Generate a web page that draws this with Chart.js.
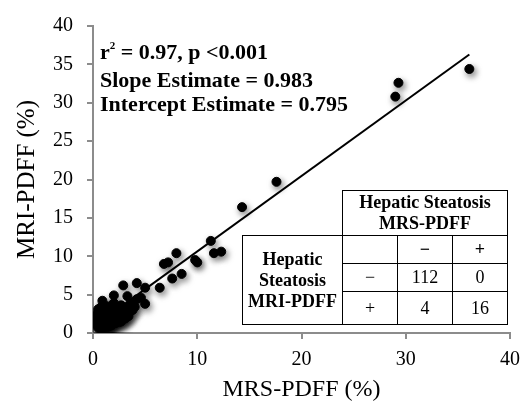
<!DOCTYPE html>
<html><head><meta charset="utf-8">
<script src="https://cdn.jsdelivr.net/npm/chart.js@4/dist/chart.umd.min.js"></script>
<style>
html,body{margin:0;padding:0;background:#fff;}
#wrap{position:relative;width:529px;height:404px;overflow:hidden;}
canvas{position:absolute;left:0;top:0;}
.note{position:absolute;left:100px;top:40px;font:bold 22px "Liberation Serif","Times New Roman",serif;line-height:24.5px;color:#000;white-space:nowrap;}
.note sup{font-size:11px;vertical-align:0;position:relative;top:-10px;}
table{position:absolute;left:242px;top:190px;border-collapse:collapse;table-layout:fixed;font:18px "Liberation Serif","Times New Roman",serif;color:#000;}
td{border:1px solid #000;text-align:center;padding:0;line-height:21px;background:#fff;}
td.b{font-weight:bold;}
td.none{border:none;background:transparent;}
</style>
</head><body>
<div id="wrap">
<canvas id="c" width="529" height="404"></canvas>
<div class="note">r<sup>2</sup> = 0.97, p &lt;0.001<br>Slope Estimate = 0.983<br>Intercept Estimate = 0.795</div>
<table>
<colgroup><col style="width:100px"><col style="width:55px"><col style="width:55px"><col style="width:55px"></colgroup>
<tr style="height:45px"><td class="none"></td><td class="b" colspan="3">Hepatic Steatosis<br>MRS-PDFF</td></tr>
<tr style="height:28px"><td class="b" rowspan="3">Hepatic<br>Steatosis<br>MRI-PDFF</td><td></td><td class="b">−</td><td class="b">+</td></tr>
<tr style="height:28px"><td>−</td><td>112</td><td>0</td></tr>
<tr style="height:33px"><td>+</td><td>4</td><td>16</td></tr>
</table>
</div>
<script>
// MRS-PDFF (x) and MRI-PDFF (y) values, %
const mrsPdff = [36.1,29.3,29.0,17.6,14.3,11.3,11.6,12.3,8.0,6.8,7.2,9.8,10.0,7.6,8.5,6.4,5.0,4.2,2.9,2.0,3.3,4.2,4.6,5.0,3.8,0.9,
0.5,0.6,0.7,0.7,0.8,0.8,0.9,0.9,1.0,1.0,1.0,1.1,1.1,1.2,1.2,1.3,1.3,1.4,1.4,1.5,1.5,1.6,1.6,1.7,1.8,1.8,1.9,2.0,2.1,2.2,2.3,2.4,2.5,2.6,2.8,2.9,3.0,3.2,3.5,3.6,4.0,
0.4,0.4,0.5,0.6,0.7,0.8,0.9,1.0,1.2,1.3,1.5,1.7,1.9,2.0,2.4,2.7,0.6,0.9,1.1,1.3,1.6,2.1,0.5,0.3,0.3,0.5,0.8,1.0,1.4,1.8,2.2,2.7,3.1,3.4,1.2,1.6,1.9,2.5,0.7,1.1,1.5,0.6];
const mriPdff = [34.4,32.6,30.8,19.7,16.4,12.0,10.4,10.6,10.4,9.0,9.2,9.5,9.2,7.1,7.7,5.9,5.9,6.5,6.2,4.9,4.8,4.4,4.6,3.8,3.0,4.2,
1.0,1.4,0.9,1.8,1.2,2.2,1.5,0.8,1.1,2.0,2.6,1.3,1.7,0.9,2.3,1.5,1.1,1.9,2.8,1.2,1.6,2.1,0.9,1.4,1.8,2.6,1.2,2.2,1.6,3.0,1.9,2.5,1.4,2.0,2.6,1.8,3.3,2.3,2.7,3.8,3.4,
1.6,2.4,3.1,2.0,2.9,3.4,2.4,3.6,3.1,3.5,3.3,3.0,3.7,3.9,3.4,3.6,1.1,1.9,2.2,2.6,2.4,2.8,2.7,1.9,1.2,0.7,0.6,0.7,0.8,1.0,1.3,1.5,1.9,2.2,1.6,1.8,2.4,3.0,1.5,2.9,2.0,2.3];
// regression line end points (slope 0.983, intercept 0.795)
const fitX = [0.5, 36.1];
const fitY = [1.29, 36.28];
const xTicks = [0, 10, 20, 30, 40];
const yTicks = [0, 5, 10, 15, 20, 25, 30, 35, 40];

const points = mrsPdff.map((x, i) => ({x: x, y: mriPdff[i]}));
const fitLine = fitX.map((x, i) => ({x: x, y: fitY[i]}));

const shadowPlugin = {
  id: 'shadow',
  beforeDatasetDraw(chart, args) {
    if (args.index === 0) {
      const c = chart.ctx; c.save();
      c.shadowColor = 'rgba(0,0,0,0.5)'; c.shadowBlur = 6; c.shadowOffsetX = 2; c.shadowOffsetY = 3;
    }
  },
  afterDatasetDraw(chart, args) { if (args.index === 0) chart.ctx.restore(); }
};

const serif = '"Liberation Serif","Times New Roman",serif';
const axisGrey = '#8c8c8c';

new Chart(document.getElementById('c'), {
  type: 'scatter',
  data: { datasets: [
    { data: points, backgroundColor: '#000', borderColor: '#000', pointRadius: 4.5, pointHoverRadius: 4.5, order: 1 },
    { type: 'line', data: fitLine, borderColor: '#000', borderWidth: 2, pointRadius: 0, fill: false, order: 2 }
  ]},
  options: {
    responsive: false, animation: false, devicePixelRatio: 1,
    events: [],
    layout: { padding: { top: 20, right: 15, left: 0, bottom: 0 } },
    plugins: { legend: { display: false }, tooltip: { enabled: false } },
    scales: {
      x: {
        type: 'linear', min: 0, max: 40,
        afterBuildTicks: s => { s.ticks = xTicks.map(v => ({value: v})); },
        afterFit: s => { s.height = 71; },
        ticks: { font: { family: serif, size: 20 }, color: '#000', padding: 9 },
        grid: { drawOnChartArea: false, drawTicks: true, tickLength: 6, color: axisGrey, lineWidth: 2 },
        border: { color: axisGrey, width: 2 },
        title: { display: true, text: 'MRS-PDFF (%)', font: { family: serif, size: 24 }, color: '#000', padding: { top: 2, bottom: 0 } }
      },
      y: {
        type: 'linear', min: 0, max: 40,
        afterBuildTicks: s => { s.ticks = yTicks.map(v => ({value: v})); },
        afterFit: s => { s.width = 93; },
        ticks: { font: { family: serif, size: 20 }, color: '#000', padding: 14 },
        grid: { drawOnChartArea: false, drawTicks: true, tickLength: 6, color: axisGrey, lineWidth: 2 },
        border: { color: axisGrey, width: 2 },
        title: { display: true, text: 'MRI-PDFF (%)', font: { family: serif, size: 25 }, color: '#000', padding: { top: 12, bottom: 0 } }
      }
    }
  },
  plugins: [shadowPlugin]
});
</script>
</body></html>
